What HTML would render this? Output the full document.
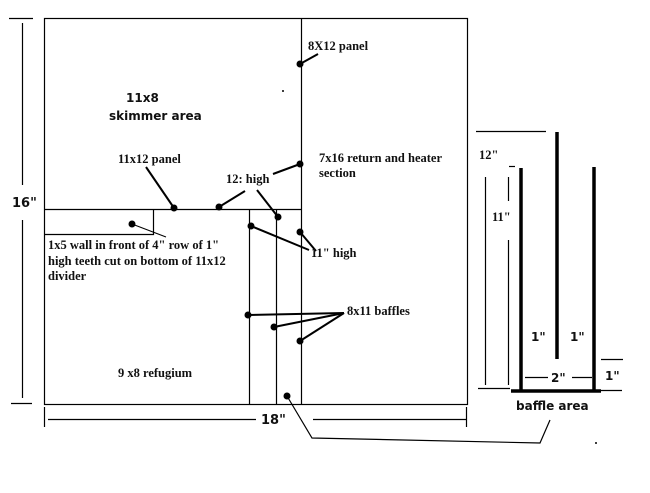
<!DOCTYPE html>
<html><head><style>
body{margin:0;background:#fff}
svg text{font-family:"Liberation Serif",serif;font-weight:bold;font-size:12.5px;fill:#111}
.s{font-family:"DejaVu Sans","Liberation Sans",sans-serif !important;font-weight:bold}
</style></head><body>
<svg width="650" height="488" viewBox="0 0 650 488" xmlns="http://www.w3.org/2000/svg">
<g stroke="#000" stroke-width="1.2" fill="none">
<rect x="44.5" y="18.5" width="423" height="386"/>
<line x1="301.5" y1="18" x2="301.5" y2="404"/>
<line x1="44" y1="209.5" x2="301" y2="209.5"/>
<polyline points="44,234.5 153.5,234.5 153.5,209"/>
<line x1="249.5" y1="209" x2="249.5" y2="404"/>
<line x1="276.5" y1="209" x2="276.5" y2="404"/>
<line x1="9" y1="18.5" x2="33" y2="18.5"/>
<line x1="22.5" y1="23" x2="22.5" y2="185"/>
<line x1="22.5" y1="220" x2="22.5" y2="398"/>
<line x1="11" y1="403.5" x2="32" y2="403.5"/>
<line x1="44.5" y1="407" x2="44.5" y2="427"/>
<line x1="48" y1="419.5" x2="256" y2="419.5"/>
<line x1="313" y1="419.5" x2="466" y2="419.5"/>
<line x1="466.5" y1="407" x2="466.5" y2="427"/>
<polyline points="287,396 312,438 540,443 550,420"/>
<line x1="476" y1="131.5" x2="546" y2="131.5"/>
<line x1="485.5" y1="177" x2="485.5" y2="385"/>
<line x1="509" y1="166.5" x2="515" y2="166.5"/>
<line x1="508.5" y1="177" x2="508.5" y2="201"/>
<line x1="508.5" y1="240" x2="508.5" y2="385"/>
<line x1="478" y1="388.5" x2="510" y2="388.5"/>
<line x1="525" y1="377.5" x2="548" y2="377.5"/>
<line x1="572" y1="377.5" x2="592" y2="377.5"/>
<line x1="601" y1="359.5" x2="623" y2="359.5"/>
<line x1="601" y1="390.5" x2="622" y2="390.5"/>
</g>
<g stroke="#000" stroke-width="3.5" fill="none">
<line x1="521" y1="168" x2="521" y2="391"/>
<line x1="557" y1="132" x2="557" y2="359"/>
<line x1="594" y1="167" x2="594" y2="391"/>
<line x1="511" y1="391" x2="601" y2="391"/>
</g>
<g stroke="#000" stroke-width="2" fill="none">
<line x1="300" y1="64" x2="318" y2="54"/>
<line x1="146" y1="167" x2="174" y2="208"/>
<line x1="219" y1="207" x2="245" y2="191"/>
<line x1="257" y1="190" x2="278" y2="217"/>
<line x1="273" y1="174" x2="300" y2="164"/>
<line x1="251" y1="226" x2="309" y2="250"/>
<line x1="300" y1="232" x2="316" y2="251"/>
<line x1="248" y1="315" x2="344" y2="313"/>
<line x1="274" y1="327" x2="344" y2="313"/>
<line x1="300" y1="341" x2="344" y2="313"/>
<line x1="132" y1="224" x2="166" y2="237" stroke-width="1"/>
</g>
<g fill="#000">
<circle cx="300" cy="64" r="3.5"/><circle cx="300" cy="164" r="3.5"/>
<circle cx="174" cy="208" r="3.5"/><circle cx="219" cy="207" r="3.5"/>
<circle cx="278" cy="217" r="3.5"/><circle cx="132" cy="224" r="3.5"/>
<circle cx="251" cy="226" r="3.5"/><circle cx="300" cy="232" r="3.5"/>
<circle cx="248" cy="315" r="3.5"/><circle cx="274" cy="327" r="3.5"/>
<circle cx="300" cy="341" r="3.5"/><circle cx="287" cy="396" r="3.5"/>
<circle cx="283" cy="91" r="1"/><circle cx="596" cy="443" r="1"/>
</g>
<text x="308" y="50">8X12 panel</text>
<text x="126" y="102" class="s" style="font-size:12px">11x8</text>
<text x="109" y="120" class="s" style="font-size:12px">skimmer area</text>
<text x="118" y="163">11x12 panel</text>
<text x="226" y="183">12: high</text>
<text x="319" y="162">7x16 return and heater</text>
<text x="319" y="177">section</text>
<text x="311" y="257">11" high</text>
<text x="347" y="315">8x11 baffles</text>
<text x="48" y="249">1x5 wall in front of 4" row of 1"</text>
<text x="48" y="265">high teeth cut on bottom of 11x12</text>
<text x="48" y="280">divider</text>
<text x="118" y="377">9 x8 refugium</text>
<text x="12" y="207" class="s" style="font-size:13px">16"</text>
<text x="261" y="424" class="s" style="font-size:13px">18"</text>
<text x="479" y="159" style="font-size:12.5px">12"</text>
<text x="492" y="221" style="font-size:12.5px">11"</text>
<text x="531" y="341" class="s" style="font-size:12px">1"</text>
<text x="570" y="341" class="s" style="font-size:12px">1"</text>
<text x="551" y="382" class="s" style="font-size:12px">2"</text>
<text x="605" y="380" class="s" style="font-size:12px">1"</text>
<text x="516" y="410" class="s" style="font-size:12px">baffle area</text>
</svg>
</body></html>
